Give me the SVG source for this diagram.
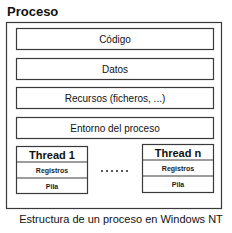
<svg xmlns="http://www.w3.org/2000/svg" width="232" height="233" viewBox="0 0 232 233">
<style>
.box{fill:#fff;stroke:#3a3a3a;stroke-width:1.2}
.lbl{font-family:"Liberation Sans",Arial,sans-serif;font-size:10px;fill:#111;text-anchor:middle}
.th{font-family:"Liberation Sans",Arial,sans-serif;font-size:11px;font-weight:bold;fill:#111;text-anchor:middle}
.sm{font-family:"Liberation Sans",Arial,sans-serif;font-size:7px;font-weight:bold;fill:#222;text-anchor:middle}
.ln{stroke:#3a3a3a;stroke-width:1.2}
</style>
<rect width="232" height="233" fill="#fff"/>
<text x="7" y="16" font-family="Liberation Sans,Arial,sans-serif" font-size="13" font-weight="bold" fill="#111">Proceso</text>
<g id="proceso"><rect class="box" x="6.5" y="22.5" width="215" height="186"/></g>
<g id="codigo"><rect class="box" x="16.5" y="28.5" width="197" height="21"/><text class="lbl" x="115" y="43">Código</text></g>
<g id="datos"><rect class="box" x="16.5" y="58.5" width="197" height="21"/><text class="lbl" x="115" y="73">Datos</text></g>
<g id="recursos"><rect class="box" x="16.5" y="87.5" width="197" height="21"/><text class="lbl" x="115" y="102">Recursos (ficheros, ...)</text></g>
<g id="entorno"><rect class="box" x="16.5" y="117.5" width="197" height="21"/><text class="lbl" x="115" y="132">Entorno del proceso</text></g>
<g id="thread1">
<rect class="box" x="16.5" y="146.5" width="71" height="47"/>
<line class="ln" x1="16.5" y1="162" x2="87.5" y2="162"/>
<line class="ln" x1="16.5" y1="178" x2="87.5" y2="178"/>
<text class="th" x="52" y="159">Thread 1</text>
<text class="sm" x="52" y="173">Registros</text>
<text class="sm" x="52" y="189">Pila</text>
</g>
<g id="threadn">
<rect class="box" x="142.5" y="144.5" width="71" height="48"/>
<line class="ln" x1="142.5" y1="160" x2="213.5" y2="160"/>
<line class="ln" x1="142.5" y1="176" x2="213.5" y2="176"/>
<text class="th" x="178" y="157">Thread n</text>
<text class="sm" x="178" y="171">Registros</text>
<text class="sm" x="178" y="187">Pila</text>
</g>
<g id="connectors">
<line x1="101" y1="171" x2="130" y2="171" stroke="#222" stroke-width="1.5" stroke-dasharray="2,3"/>
</g>
<text x="121" y="223" text-anchor="middle" font-family="'Liberation Sans',Arial,sans-serif" font-size="11" fill="#111">Estructura de un proceso en Windows NT</text>
</svg>
